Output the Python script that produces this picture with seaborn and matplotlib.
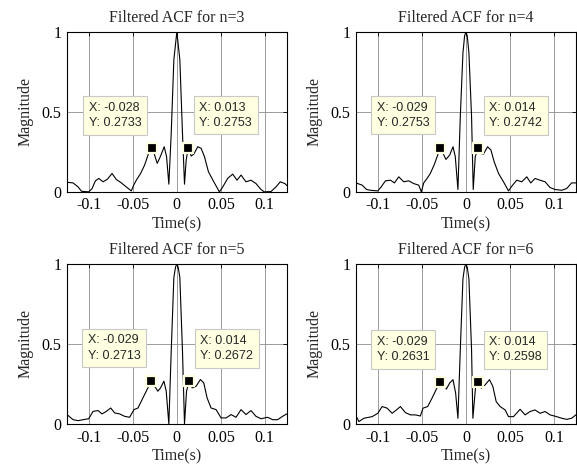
import numpy as np
import pandas as pd
import matplotlib
matplotlib.use("Agg")
import matplotlib.pyplot as plt
import seaborn as sns

# order of the panels
ORDERS = [3, 4, 5, 6]

# n = 3
T3 = [-0.1250, -0.1180, -0.1123, -0.1085, -0.1002, -0.0964, -0.0926, -0.0888,
      -0.0839, -0.0790, -0.0737, -0.0688, -0.0631, -0.0575, -0.0518, -0.0491,
      -0.0461, -0.0412, -0.0367, -0.0321, -0.0280, -0.0253, -0.0223, -0.0185,
      -0.0144, -0.0117, -0.0091, -0.0064, -0.0034, 0.0000, 0.0034, 0.0064,
      0.0087, 0.0106, 0.0130, 0.0163, 0.0193, 0.0238, 0.0276, 0.0314,
      0.0359, 0.0420, 0.0484, 0.0522, 0.0578, 0.0635, 0.0684, 0.0730,
      0.0786, 0.0843, 0.0900, 0.0957, 0.0994, 0.1070, 0.1127, 0.1176,
      0.1229, 0.1250]
M3 = [0.060, 0.056, 0.031, 0.004, 0.000, 0.021, 0.069, 0.084,
      0.063, 0.079, 0.115, 0.077, 0.056, 0.031, 0.006, 0.042,
      0.073, 0.115, 0.167, 0.241, 0.2733, 0.230, 0.178, 0.224,
      0.282, 0.220, 0.048, 0.366, 0.826, 1.000, 0.826, 0.366,
      0.048, 0.199, 0.2753, 0.224, 0.236, 0.282, 0.272, 0.220,
      0.126, 0.063, 0.000, 0.031, 0.084, 0.111, 0.073, 0.105,
      0.063, 0.073, 0.052, 0.015, 0.000, 0.002, 0.031, 0.063,
      0.052, 0.040]

# n = 4
T4 = [-0.1250, -0.1180, -0.1130, -0.1085, -0.1002, -0.0964, -0.0915, -0.0858,
      -0.0813, -0.0764, -0.0707, -0.0650, -0.0594, -0.0537, -0.0507, -0.0480,
      -0.0442, -0.0405, -0.0359, -0.0321, -0.0290, -0.0261, -0.0227, -0.0185,
      -0.0147, -0.0121, -0.0091, -0.0064, -0.0034, -0.0015, 0.0000, 0.0015,
      0.0034, 0.0064, 0.0083, 0.0106, 0.0140, 0.0170, 0.0200, 0.0246,
      0.0284, 0.0321, 0.0371, 0.0427, 0.0484, 0.0522, 0.0578, 0.0635,
      0.0692, 0.0737, 0.0786, 0.0843, 0.0900, 0.0957, 0.1013, 0.1089,
      0.1146, 0.1202, 0.1250]
M4 = [0.056, 0.042, 0.015, 0.010, 0.006, 0.031, 0.069, 0.073,
      0.056, 0.094, 0.063, 0.069, 0.052, 0.042, 0.000, 0.056,
      0.084, 0.115, 0.172, 0.230, 0.2753, 0.241, 0.203, 0.230,
      0.282, 0.220, 0.015, 0.471, 0.868, 0.975, 1.000, 0.975,
      0.868, 0.471, 0.015, 0.220, 0.2742, 0.241, 0.236, 0.282,
      0.262, 0.188, 0.115, 0.063, 0.006, 0.036, 0.073, 0.063,
      0.094, 0.056, 0.084, 0.073, 0.063, 0.027, 0.015, 0.010,
      0.021, 0.056, 0.056]

# n = 5
T5 = [-0.1250, -0.1180, -0.1123, -0.1066, -0.1002, -0.0953, -0.0896, -0.0851,
      -0.0802, -0.0752, -0.0707, -0.0650, -0.0594, -0.0537, -0.0488, -0.0442,
      -0.0386, -0.0329, -0.0290, -0.0253, -0.0216, -0.0185, -0.0147, -0.0121,
      -0.0091, -0.0064, -0.0034, -0.0015, 0.0000, 0.0015, 0.0034, 0.0064,
      0.0087, 0.0110, 0.0140, 0.0174, 0.0219, 0.0268, 0.0306, 0.0344,
      0.0389, 0.0446, 0.0503, 0.0560, 0.0616, 0.0673, 0.0730, 0.0786,
      0.0843, 0.0900, 0.0957, 0.1032, 0.1089, 0.1146, 0.1202, 0.1250]
M5 = [0.059, 0.027, 0.021, 0.027, 0.033, 0.079, 0.084, 0.063,
      0.079, 0.100, 0.069, 0.063, 0.048, 0.042, 0.090, 0.100,
      0.163, 0.226, 0.2713, 0.236, 0.205, 0.226, 0.268, 0.205,
      0.000, 0.456, 0.916, 0.980, 1.000, 0.980, 0.916, 0.456,
      0.000, 0.205, 0.2672, 0.226, 0.236, 0.278, 0.257, 0.163,
      0.100, 0.090, 0.038, 0.038, 0.059, 0.042, 0.090, 0.059,
      0.084, 0.048, 0.033, 0.042, 0.027, 0.027, 0.048, 0.063]

# n = 6
T6 = [-0.1250, -0.1217, -0.1161, -0.1066, -0.1002, -0.0953, -0.0896, -0.0839,
      -0.0790, -0.0745, -0.0688, -0.0631, -0.0575, -0.0518, -0.0488, -0.0435,
      -0.0386, -0.0336, -0.0290, -0.0261, -0.0223, -0.0185, -0.0147, -0.0117,
      -0.0091, -0.0064, -0.0034, -0.0015, 0.0000, 0.0015, 0.0034, 0.0064,
      0.0079, 0.0110, 0.0140, 0.0174, 0.0219, 0.0268, 0.0306, 0.0344,
      0.0389, 0.0446, 0.0484, 0.0541, 0.0616, 0.0673, 0.0730, 0.0786,
      0.0843, 0.0900, 0.0957, 0.1032, 0.1089, 0.1146, 0.1202, 0.1250]
M6 = [0.050, 0.015, 0.036, 0.046, 0.067, 0.109, 0.099, 0.067,
      0.088, 0.109, 0.071, 0.057, 0.057, 0.050, 0.099, 0.109,
      0.161, 0.218, 0.2631, 0.266, 0.218, 0.256, 0.277, 0.193,
      0.036, 0.465, 0.906, 0.980, 1.000, 0.980, 0.906, 0.465,
      0.036, 0.235, 0.2598, 0.224, 0.245, 0.277, 0.235, 0.140,
      0.109, 0.088, 0.046, 0.046, 0.092, 0.057, 0.078, 0.088,
      0.067, 0.078, 0.057, 0.046, 0.036, 0.029, 0.036, 0.057]

# data tips: (x, y) left and right of the main lobe
TIP_X = [(-0.028, 0.013), (-0.029, 0.014), (-0.029, 0.014), (-0.029, 0.014)]
TIP_Y = [(0.2733, 0.2753), (0.2753, 0.2742), (0.2713, 0.2672), (0.2631, 0.2598)]

X_TICKS = [-0.1, -0.05, 0, 0.05, 0.1]
X_TICK_LABELS = ["-0.1", "-0.05", "0", "0.05", "0.1"]
Y_TICKS = [0, 0.5, 1]
Y_TICK_LABELS = ["0", "0.5", "1"]

CURVES = [(T3, M3), (T4, M4), (T5, M5), (T6, M6)]

# axes rectangles in figure fractions
POSITIONS = [
    [0.116, 0.590, 0.381, 0.342],
    [0.617, 0.590, 0.381, 0.342],
    [0.116, 0.094, 0.381, 0.342],
    [0.617, 0.094, 0.381, 0.342],
]

SERIF = "Liberation Serif"
SANS = "Liberation Sans"
TIP_FACE = "#ffffe1"


def draw_tip(ax, x, y, side):
    ax.plot([x], [y], marker="s", markersize=7, color="black",
            markeredgecolor=TIP_FACE, markeredgewidth=1.6, zorder=5)
    txt = f"X: {x:g}\nY: {y:.4f}"
    if side == "left":
        offset, ha = (-11, 19), "right"
    else:
        offset, ha = (11, 19), "left"
    ax.annotate(txt, xy=(x, y), xytext=offset, textcoords="offset pixels",
                ha=ha, va="bottom", multialignment="left",
                fontsize=9, family=SANS, linespacing=1.35,
                bbox=dict(boxstyle="square,pad=0.45", fc=TIP_FACE,
                          ec="#c8c8c8", lw=0.8),
                zorder=6)


def main() -> None:
    sns.set_theme(style="white")
    plt.rcParams["font.family"] = [SERIF, "DejaVu Serif"]

    fig = plt.figure(figsize=(5.77, 4.68), dpi=100)
    for i, n in enumerate(ORDERS):
        ax = fig.add_axes(POSITIONS[i])
        t, m = CURVES[i]
        df = pd.DataFrame({"Time": t, "Magnitude": m})
        sns.lineplot(data=df, x="Time", y="Magnitude", ax=ax,
                     color="black", linewidth=0.8, estimator=None, sort=False)

        ax.set_xlim(-0.125, 0.125)
        ax.set_ylim(0, 1)
        ax.set_xticks(X_TICKS)
        ax.set_xticklabels(X_TICK_LABELS)
        ax.set_yticks(Y_TICKS)
        ax.set_yticklabels(Y_TICK_LABELS)
        ax.grid(True, color="#8c8c8c", linewidth=0.6)
        ax.set_axisbelow(True)
        ax.tick_params(direction="in", length=3, width=0.6, colors="black",
                       labelsize=11.5, top=True, right=True, pad=4)
        for sp in ax.spines.values():
            sp.set_color("black")
            sp.set_linewidth(0.8)

        ax.set_title(f"Filtered ACF for n={n}", fontsize=11.5, pad=7)
        ax.set_xlabel("Time(s)", fontsize=11.5, labelpad=2)
        ax.set_ylabel("Magnitude", fontsize=11.5, labelpad=6)

        draw_tip(ax, TIP_X[i][0], TIP_Y[i][0], "left")
        draw_tip(ax, TIP_X[i][1], TIP_Y[i][1], "right")

    fig.savefig("out.png", dpi=100, facecolor="white")
    plt.close(fig)


if __name__ == "__main__":
    main()
